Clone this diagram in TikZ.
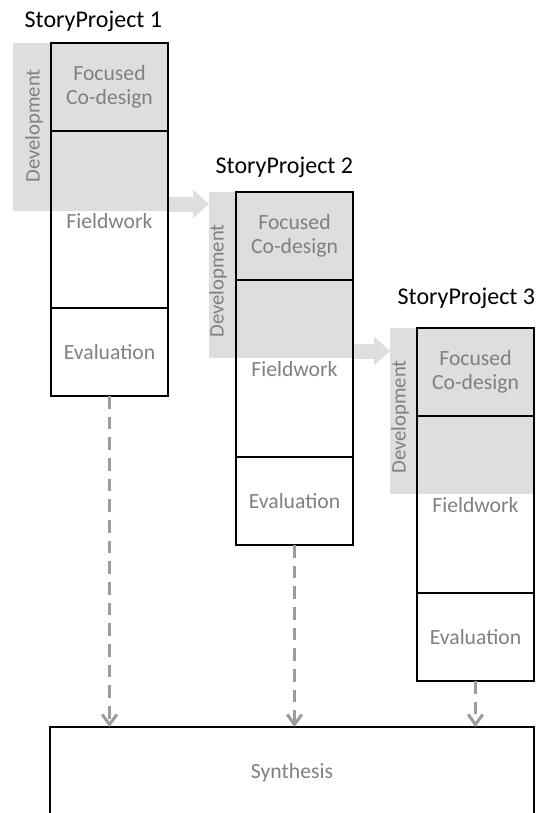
\documentclass[tikz,border=0pt]{standalone}
\usepackage{fontspec}
\setsansfont{Carlito}
\usetikzlibrary{arrows.meta}
\definecolor{devgrey}{HTML}{DEDEDE}
\definecolor{labelgrey}{HTML}{808080}
\definecolor{linkgrey}{HTML}{9C9C9C}
\tikzset{every picture/.style={/utils/exec={\sffamily}}}

\begin{document}
\begin{tikzpicture}[x=0.75pt, y=-0.75pt,
	phase/.style={draw, line width=1.6pt, minimum width=87.75pt, anchor=north west,
		inner sep=0pt, outer sep=0pt, text=labelgrey, align=center,
		font=\fontsize{16.25}{17.5}\selectfont},
	devzone/.style={fill=devgrey, anchor=north west, inner sep=0pt, outer sep=0pt},
	greytext/.style={text=labelgrey, font=\fontsize{16.25}{17.5}\selectfont},
	devtext/.style={text=labelgrey, rotate=90, font=\fontsize{15.5}{17.5}\selectfont},
	projtitle/.style={anchor=base west, font=\fontsize{18}{21.6}\selectfont},
	devarrow/.style={devgrey, line width=11.25pt, -{Triangle[length=12pt, width=21pt]}},
	synthlink/.style={linkgrey, line width=2.25pt, dash pattern=on 9.5pt off 6pt,
		-{Straight Barb[length=7.5pt, width=11pt, line width=2.25pt]}}
	]
		\useasboundingbox (0,0) rectangle (536,813);

		% grey development zones
		\node[devzone, minimum width=116.25pt, minimum height=126pt] (dev1) at (13,43) {};
		\node[devzone, minimum width=108pt, minimum height=124.5pt] (dev2) at (209,192) {};
		\node[devzone, minimum width=108pt, minimum height=124.5pt] (dev3) at (390,328) {};

		% arrows between projects
		\draw[devarrow] ([yshift=5.25pt]dev1.south east) -- ([yshift=5.25pt]dev1.south east -| dev2.west);
		\draw[devarrow] ([yshift=5.25pt]dev2.south east) -- ([yshift=5.25pt]dev2.south east -| dev3.west);

		% StoryProject 1
		\node[projtitle] (title1) at (20,28) {StoryProject 1};
		\node[phase, minimum height=66pt] (codesign1) at (51,43) {Focused\\Co-design};
		\node[phase, minimum height=132.75pt] (field1) at (codesign1.south west) {};
		\node[phase, minimum height=66pt] (eval1) at (field1.south west) {Evaluation};
		\node[devtext] (devtext1) at (34,126) {Development};
		\node[greytext] (fieldtext1) at (109.5,221) {Fieldwork};

		% StoryProject 2
		\node[projtitle] (title2) at (211,173) {StoryProject 2};
		\node[phase, minimum height=66pt] (codesign2) at (236,192) {Focused\\Co-design};
		\node[phase, minimum height=132.75pt] (field2) at (codesign2.south west) {};
		\node[phase, minimum height=66pt] (eval2) at (field2.south west) {Evaluation};
		\node[devtext] (devtext2) at (218,281) {Development};
		\node[greytext] (fieldtext2) at (294.5,369) {Fieldwork};

		% StoryProject 3
		\node[projtitle] (title3) at (393,304) {StoryProject 3};
		\node[phase, minimum height=66pt] (codesign3) at (417,328) {Focused\\Co-design};
		\node[phase, minimum height=132.75pt] (field3) at (codesign3.south west) {};
		\node[phase, minimum height=66pt] (eval3) at (field3.south west) {Evaluation};
		\node[devtext] (devtext3) at (400,417) {Development};
		\node[greytext] (fieldtext3) at (475.5,505) {Fieldwork};

		% synthesis
		\node[phase, minimum width=363pt, minimum height=69pt] (synth) at (50,727) {Synthesis};

		\draw[synthlink] (eval1.south) -- (eval1.south |- synth.north);
		\draw[synthlink] (eval2.south) -- (eval2.south |- synth.north);
		\draw[synthlink] (eval3.south) -- (eval3.south |- synth.north);

	\end{tikzpicture}
\end{document}
